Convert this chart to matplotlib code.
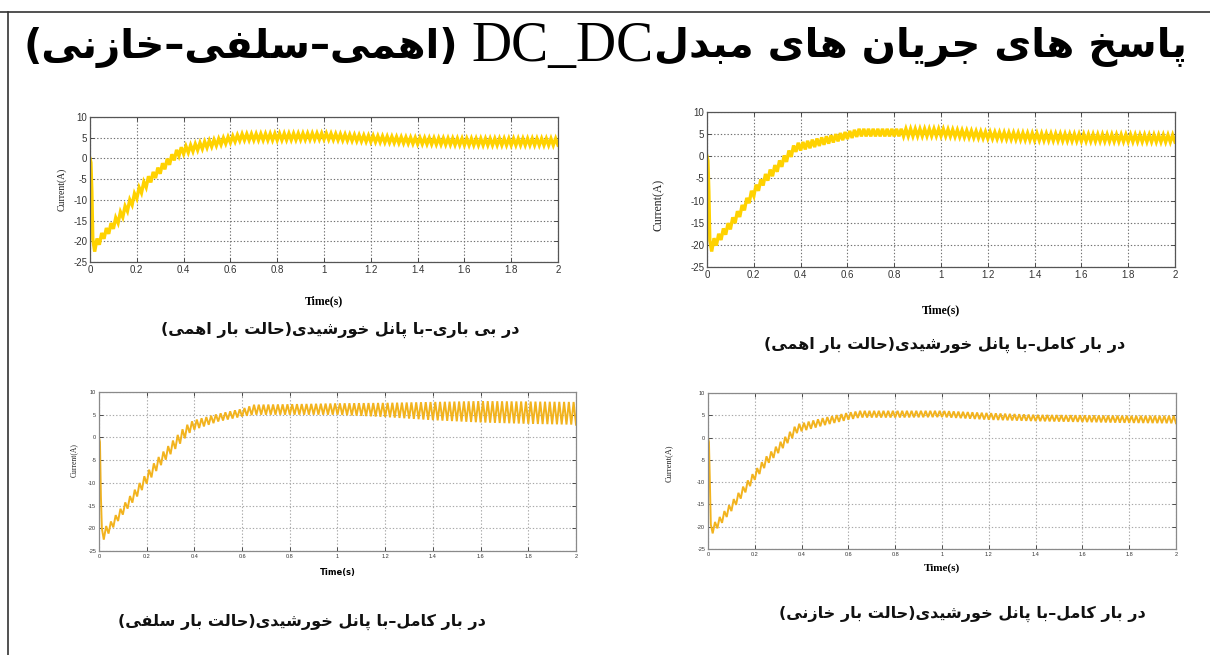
import re
import numpy as np
import matplotlib
matplotlib.use("Agg")
import matplotlib.pyplot as plt
from matplotlib.lines import Line2D

plt.rcParams['path.simplify'] = False
plt.rcParams['axes.unicode_minus'] = False

# Persian letters -> (isolated, final, initial, medial) presentation forms
FORMS = {
    'ا': ('\uFE8D', '\uFE8E', None, None),
    'ب': ('\uFE8F', '\uFE90', '\uFE91', '\uFE92'),
    'پ': ('\uFB56', '\uFB57', '\uFB58', '\uFB59'),
    'ت': ('\uFE95', '\uFE96', '\uFE97', '\uFE98'),
    'ج': ('\uFE9D', '\uFE9E', '\uFE9F', '\uFEA0'),
    'ح': ('\uFEA1', '\uFEA2', '\uFEA3', '\uFEA4'),
    'خ': ('\uFEA5', '\uFEA6', '\uFEA7', '\uFEA8'),
    'د': ('\uFEA9', '\uFEAA', None, None),
    'ر': ('\uFEAD', '\uFEAE', None, None),
    'ز': ('\uFEAF', '\uFEB0', None, None),
    'س': ('\uFEB1', '\uFEB2', '\uFEB3', '\uFEB4'),
    'ش': ('\uFEB5', '\uFEB6', '\uFEB7', '\uFEB8'),
    'ف': ('\uFED1', '\uFED2', '\uFED3', '\uFED4'),
    'ک': ('\uFB8E', '\uFB8F', '\uFB90', '\uFB91'),
    'ل': ('\uFEDD', '\uFEDE', '\uFEDF', '\uFEE0'),
    'م': ('\uFEE1', '\uFEE2', '\uFEE3', '\uFEE4'),
    'ن': ('\uFEE5', '\uFEE6', '\uFEE7', '\uFEE8'),
    'ه': ('\uFEE9', '\uFEEA', '\uFEEB', '\uFEEC'),
    'و': ('\uFEED', '\uFEEE', None, None),
    'ی': ('\uFBFC', '\uFBFD', '\uFBFE', '\uFBFF'),
}


def rtl(text):
    """Shape Persian letters and put the string in visual (left-to-right) order."""
    out = []
    for i, c in enumerate(text):
        if c not in FORMS:
            out.append(c)
            continue
        prev = text[i - 1] if i > 0 else ''
        nxt = text[i + 1] if i + 1 < len(text) else ''
        join_prev = prev in FORMS and FORMS[prev][2] is not None
        join_next = nxt in FORMS and FORMS[c][2] is not None
        iso, fin, ini, med = FORMS[c]
        if join_prev and join_next:
            out.append(med)
        elif join_prev:
            out.append(fin)
        elif join_next:
            out.append(ini)
        else:
            out.append(iso)
    vis = ''.join(out)[::-1]
    vis = vis.translate(str.maketrans('()', ')('))
    # latin runs keep their own direction
    return re.sub(r'[A-Za-z0-9_]+', lambda m: m.group(0)[::-1], vis)


# title pieces, right to left: Persian head, converter name, load types
title_head = 'پاسخ های جریان های مبدل'
title_name = 'DC_DC'
title_tail = '(اهمی–سلفی–خازنی)'
captions = [
    'در بی باری–با پانل خورشیدی(حالت بار اهمی)',
    'در بار کامل–با پانل خورشیدی(حالت بار اهمی)',
    'در بار کامل–با پانل خورشیدی(حالت بار سلفی)',
    'در بار کامل–با پانل خورشیدی(حالت بار خازنی)',
]

# start-up transient (s, A)
start_t = [0.0, 0.004, 0.008, 0.012]
start_tl = [0.0, -1.0, -8.0, -19.5]
start_tr = [0.0, -1.0, -8.0, -19.0]
start_bl = [0.0, -1.0, -13.0, -20.0]
start_br = [0.0, -1.0, -10.0, -19.5]

# ripple band (lower / upper current) at these instants
knots = [0.02, 0.05, 0.10, 0.15, 0.20, 0.25, 0.30, 0.35, 0.38, 0.40,
         0.50, 0.60, 0.65, 0.80, 1.00, 1.20, 1.40, 1.60, 1.80, 2.00]
lo_tl = [-22.5, -20.0, -17.0, -13.5, -9.7, -6.3, -3.7, -1.0, 0.6, 1.1,
         2.6, 3.8, 4.4, 4.4, 4.6, 4.0, 3.5, 3.2, 3.2, 3.2]
hi_tl = [-20.0, -18.0, -15.0, -11.5, -7.7, -4.3, -1.7, 1.0, 2.6, 2.8,
         4.2, 5.3, 5.9, 6.0, 6.1, 5.5, 5.0, 4.8, 4.8, 4.8]
lo_tr = [-21.5, -19.5, -16.5, -13.0, -9.0, -6.0, -3.5, -0.7, 1.0, 1.3,
         2.6, 3.9, 4.5, 4.5, 4.6, 4.0, 3.6, 3.4, 3.3, 3.2]
hi_tr = [-19.0, -17.5, -14.5, -11.0, -7.0, -4.0, -1.5, 1.3, 3.0, 3.1,
         4.4, 5.6, 6.2, 6.2, 6.2, 5.5, 5.2, 5.0, 4.9, 4.8]
lo_bl = [-22.5, -20.5, -17.0, -13.7, -10.2, -6.7, -3.7, -0.8, 1.0, 1.7,
         3.5, 4.6, 5.0, 5.0, 5.0, 4.5, 3.8, 3.3, 3.0, 2.8]
hi_bl = [-20.0, -18.5, -15.0, -11.5, -7.8, -4.3, -1.3, 1.8, 3.3, 3.8,
         5.2, 6.3, 7.2, 7.3, 7.5, 7.6, 7.8, 8.0, 7.9, 7.8]
lo_br = [-21.5, -19.8, -16.5, -13.0, -9.5, -6.2, -3.5, -0.7, 1.0, 1.4,
         2.8, 4.0, 4.5, 4.5, 4.6, 4.0, 3.7, 3.5, 3.3, 3.2]
hi_br = [-19.5, -17.8, -14.5, -11.0, -7.5, -4.2, -1.5, 1.3, 3.0, 3.2,
         4.5, 5.6, 6.0, 6.0, 6.0, 5.5, 5.1, 5.0, 4.9, 4.9]

switch_period = 0.02  # s, converter ripple period

x_ticks = [0, 0.2, 0.4, 0.6, 0.8, 1, 1.2, 1.4, 1.6, 1.8, 2]
x_ticklabels = ['0', '0.2', '0.4', '0.6', '0.8', '1', '1.2', '1.4', '1.6', '1.8', '2']
y_ticks = [-25, -20, -15, -10, -5, 0, 5, 10]


def ripple_trace(st, si, lo, hi):
    tt = np.arange(knots[0], knots[-1] + 1e-9, switch_period / 2)
    lo_i = np.interp(tt, knots, lo)
    hi_i = np.interp(tt, knots, hi)
    vals = np.where(np.arange(len(tt)) % 2 == 0, lo_i, hi_i)
    return np.concatenate([st, tt]), np.concatenate([si, vals])


W, H = 1210, 655
fig = plt.figure(figsize=(W / 100, H / 100), dpi=100)


def box(x0, y0, x1, y1):
    return [x0 / W, 1 - y1 / H, (x1 - x0) / W, (y1 - y0) / H]


panels = [
    dict(rect=box(90, 117, 558, 262), start=start_tl, lo=lo_tl, hi=hi_tl,
         color='#FFD200', lw=2.4, tick_fs=7, frame='#555555', grid='#707070',
         xl=(-0.23, 'Liberation Serif', 8.5), yl=(-0.05, 0.5, 7),
         cap=(340, 330)),
    dict(rect=box(707, 112, 1175, 267), start=start_tr, lo=lo_tr, hi=hi_tr,
         color='#FFD200', lw=2.4, tick_fs=7, frame='#555555', grid='#707070',
         xl=(-0.24, 'Liberation Serif', 8.5), yl=(-0.09, 0.4, 8.5),
         cap=(945, 345)),
    dict(rect=box(99, 392, 576, 551), start=start_bl, lo=lo_bl, hi=hi_bl,
         color='#F2B31E', lw=1.4, tick_fs=4, frame='#8a8a8a', grid='#a8a8a8',
         xl=(-0.105, 'DejaVu Sans', 6), yl=(-0.045, 0.57, 5.5),
         cap=(302, 622)),
    dict(rect=box(708, 393, 1176, 549), start=start_br, lo=lo_br, hi=hi_br,
         color='#F2B31E', lw=1.4, tick_fs=4, frame='#8a8a8a', grid='#a8a8a8',
         xl=(-0.09, 'Liberation Serif', 8), yl=(-0.075, 0.55, 6),
         cap=(962, 614)),
]

for p, cap in zip(panels, captions):
    ax = fig.add_axes(p['rect'])
    t, i = ripple_trace(start_t, p['start'], p['lo'], p['hi'])
    ax.plot(t, i, color=p['color'], lw=p['lw'], solid_joinstyle='miter')
    ax.set_xlim(0, 2)
    ax.set_ylim(-25, 10)
    ax.set_xticks(x_ticks)
    ax.set_xticklabels(x_ticklabels)
    ax.set_yticks(y_ticks)
    ax.tick_params(direction='in', top=True, right=True, length=3,
                   labelsize=p['tick_fs'], colors='#333333', pad=2, width=0.6)
    for lab in ax.get_xticklabels() + ax.get_yticklabels():
        lab.set_fontfamily('Liberation Sans')
    for s in ax.spines.values():
        s.set_color(p['frame'])
        s.set_linewidth(0.9)
    ax.grid(True, linestyle=(0, (1.2, 1.8)), color=p['grid'], linewidth=0.8)
    ax.set_xlabel('Time(s)', fontfamily=p['xl'][1], fontweight='bold',
                  fontsize=p['xl'][2], va='top')
    ax.xaxis.set_label_coords(0.5, p['xl'][0])
    ax.set_ylabel('Current(A)', fontfamily='Liberation Serif',
                  fontsize=p['yl'][2], color='#222222')
    ax.yaxis.set_label_coords(p['yl'][0], p['yl'][1])
    fig.text(p['cap'][0] / W, 1 - p['cap'][1] / H, rtl(cap),
             fontfamily='DejaVu Sans', fontweight='bold', fontsize=11.5,
             ha='center', va='center', color='#111111')

# title: three runs laid side by side, centred on the page
ty = 1 - 47 / H
t_left = fig.text(0, ty, rtl(title_tail), fontfamily='DejaVu Sans',
                  fontweight='bold', fontsize=29, va='center', ha='left')
t_mid = fig.text(0, ty, title_name, fontfamily='Liberation Serif',
                 fontsize=40, va='center', ha='left')
t_right = fig.text(0, ty, rtl(title_head), fontfamily='DejaVu Sans',
                   fontweight='bold', fontsize=29, va='center', ha='left')
fig.canvas.draw()
r = fig.canvas.get_renderer()
widths = [t.get_window_extent(r).width for t in (t_left, t_mid, t_right)]
gap = 14
x = 605 - (sum(widths) + gap) / 2
for t, w, g in zip((t_left, t_mid, t_right), widths, (gap, 0, 0)):
    t.set_x(x / W)
    x += w + g

# page frame: top rule and left rule
fig.add_artist(Line2D([0, 1], [1 - 11.5 / H, 1 - 11.5 / H],
                      transform=fig.transFigure, color='#333333', lw=1.2))
fig.add_artist(Line2D([8 / W, 8 / W], [0, 1 - 11.5 / H],
                      transform=fig.transFigure, color='#333333', lw=1.2))

fig.savefig('out.png', dpi=100)
